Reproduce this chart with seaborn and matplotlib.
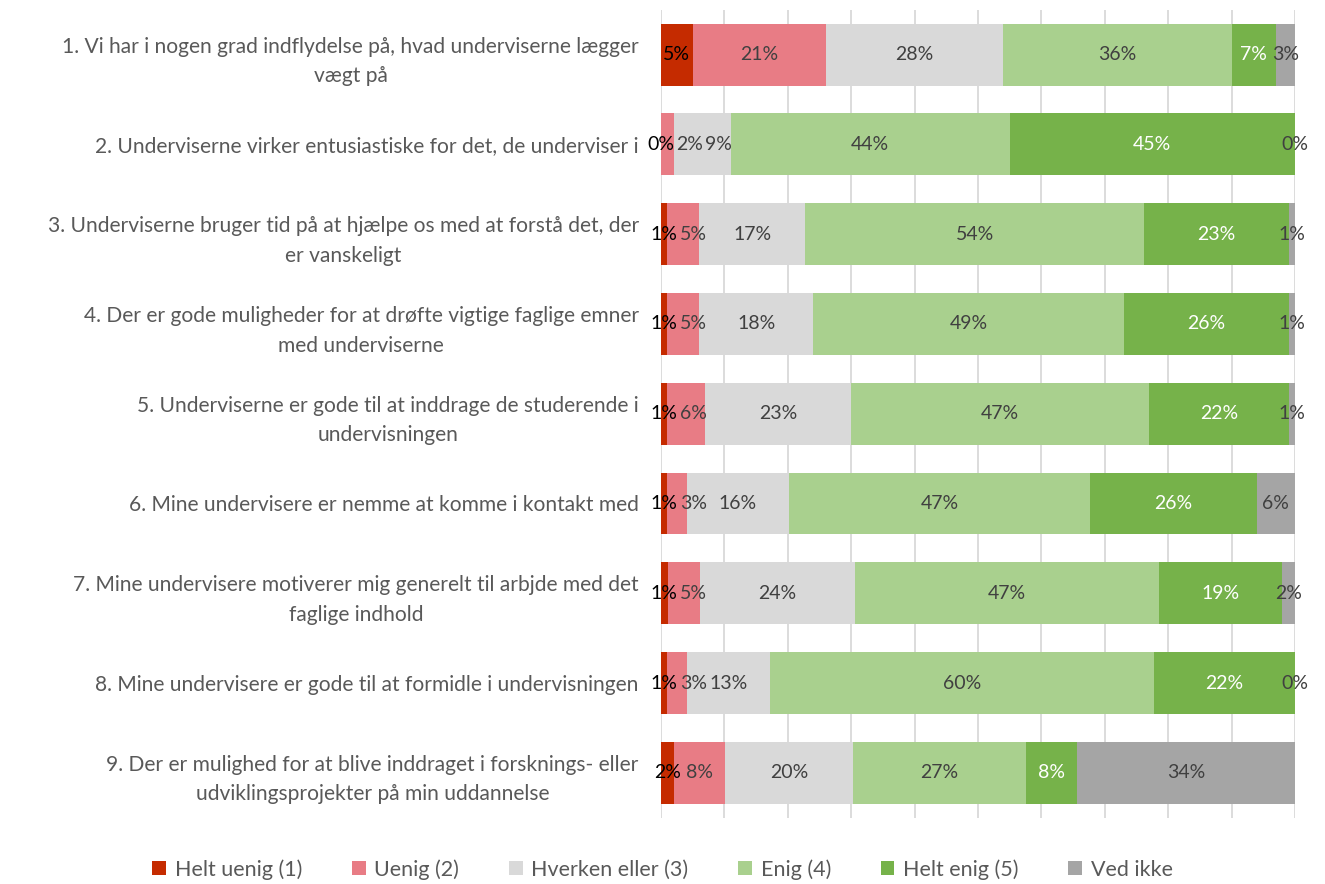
import numpy as np
import pandas as pd
import seaborn as sns
import matplotlib.pyplot as plt
from matplotlib.patches import Patch

questions = [
    "1. Vi har i nogen grad indflydelse på, hvad underviserne lægger\nvægt på",
    "2. Underviserne virker entusiastiske for det, de underviser i",
    "3. Underviserne bruger tid på at hjælpe os med at forstå det, der\ner vanskeligt",
    "4. Der er gode muligheder for at drøfte vigtige faglige emner\nmed underviserne",
    "5. Underviserne er gode til at inddrage de studerende i\nundervisningen",
    "6. Mine undervisere er nemme at komme i kontakt med",
    "7. Mine undervisere motiverer mig generelt til arbjde med det\nfaglige indhold",
    "8. Mine undervisere er gode til at formidle i undervisningen",
    "9. Der er mulighed for at blive inddraget i forsknings- eller\nudviklingsprojekter på min uddannelse",
]
answers = ["Helt uenig (1)", "Uenig (2)", "Hverken eller (3)", "Enig (4)", "Helt enig (5)", "Ved ikke"]

helt_uenig = [5, 0, 1, 1, 1, 1, 1, 1, 2]
uenig = [21, 2, 5, 5, 6, 3, 5, 3, 8]
hverken = [28, 9, 17, 18, 23, 16, 24, 13, 20]
enig = [36, 44, 54, 49, 47, 47, 47, 60, 27]
helt_enig = [7, 45, 23, 26, 22, 26, 19, 22, 8]
ved_ikke = [3, 0, 1, 1, 1, 6, 2, 0, 34]

colors = ["#C52B00", "#E87C85", "#D9D9D9", "#A9D08E", "#76B24A", "#A5A5A5"]
label_colors = ["#000000", "#404040", "#404040", "#404040", "#FFFFFF", "#404040"]

sns.set_theme(style="white")
plt.rcParams['font.family'] = ['Lato', 'DejaVu Sans']

vals = np.array([helt_uenig, uenig, hverken, enig, helt_enig, ved_ikke], dtype=float).T
# 100% stacked: scale each row to its total
pct = vals / vals.sum(axis=1, keepdims=True) * 100
cum = pct.cumsum(axis=1)

fig = plt.figure(figsize=(13.25, 8.84), dpi=100)
ax = fig.add_axes([0.4989, 0.075, 0.4785, 0.914])

# draw cumulative bars from the right so the earlier ones cover them
for j in range(len(answers) - 1, -1, -1):
    df = pd.DataFrame({'q': questions, 'v': cum[:, j]})
    sns.barplot(data=df, x='v', y='q', color=colors[j], orient='h', width=0.69,
                saturation=1, linewidth=0, edgecolor='none', ax=ax, zorder=2)

ax.set_xlim(0, 100)
ax.set_ylim(8.5, -0.5)

texts = []
for i in range(len(questions)):
    row = []
    for j in range(len(answers)):
        xc = cum[i, j] - pct[i, j] / 2
        row.append(ax.text(xc, i, f"{int(vals[i, j])}%", ha='center', va='center',
                           fontsize=14, color=label_colors[j], zorder=5))
    texts.append(row)

ax.set_xticks(np.arange(0, 101, 10))
ax.set_xticklabels([])
ax.grid(axis='x', color='#D9D9D9', linewidth=1.3, zorder=0)
ax.set_axisbelow(True)
ax.set_xlabel('')
ax.set_ylabel('')
for s in ax.spines.values():
    s.set_visible(False)
ax.tick_params(axis='y', length=0, pad=16, labelsize=15.1, labelcolor='#595959')
ax.tick_params(axis='x', length=0)
for lbl in ax.get_yticklabels():
    lbl.set_multialignment('center')
    lbl.set_linespacing(1.6)

# nudge small labels to the right when they run into the one before
fig.canvas.draw()
px_per_unit = ax.get_window_extent().width / 100
for row in texts:
    prev_right = -1e9
    for t in row:
        bb = t.get_window_extent()
        if bb.x0 < prev_right + 2:
            x, y = t.get_position()
            t.set_position((x + (prev_right + 2 - bb.x0) / px_per_unit, y))
            bb = t.get_window_extent()
        prev_right = bb.x1

handles = [Patch(facecolor=c, edgecolor='none') for c in colors]
fig.legend(handles, answers, loc='lower center', bbox_to_anchor=(0.5, -0.017), ncol=6,
           frameon=False, fontsize=15.5, labelcolor='#595959', handlelength=0.65,
           handleheight=0.65, handletextpad=0.4, columnspacing=2.3)

fig.savefig('out.png', dpi=100)
